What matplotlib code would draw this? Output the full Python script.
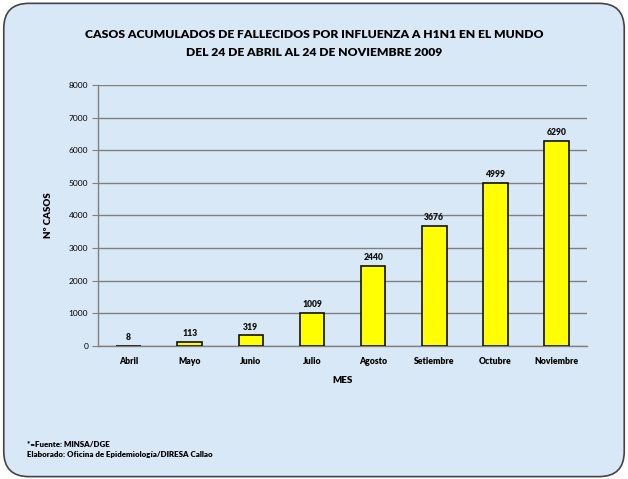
import matplotlib
matplotlib.use("Agg")
import matplotlib.pyplot as plt
from matplotlib.patches import FancyBboxPatch

months = ["Abril", "Mayo", "Junio", "Julio", "Agosto", "Setiembre", "Octubre", "Noviembre"]
cases = [8, 113, 319, 1009, 2440, 3676, 4999, 6290]
yticks = [0, 1000, 2000, 3000, 4000, 5000, 6000, 7000, 8000]

plt.rcParams['font.family'] = ['Lato', 'DejaVu Sans']

fig = plt.figure(figsize=(6.28, 4.79), dpi=100)
fig.patch.set_facecolor('white')
bg = FancyBboxPatch((0.006, 0.005), 0.988, 0.988, boxstyle="round,pad=0,rounding_size=0.04",
                    transform=fig.transFigure, facecolor='#d9e8f7', edgecolor='#444444',
                    linewidth=1.2, mutation_aspect=628/479, zorder=-5)
fig.patches.append(bg)

ax = fig.add_axes([0.156, 0.278, 0.779, 0.5445])
ax.set_zorder(5)
ax.set_facecolor('none')
x = range(len(months))
bars = ax.bar(x, cases, width=0.4, color='#ffff00', edgecolor='#111111', linewidth=1.2, zorder=3)
for xi, v in zip(x, cases):
    ax.text(xi, v + 120, str(v), ha='center', va='bottom', fontsize=6.2, fontweight='heavy', color='#111111')

ax.set_xlim(-0.5, len(months) - 0.5)
ax.set_ylim(0, 8000)
ax.set_yticks(yticks)
ax.set_yticklabels([str(t) for t in yticks], fontsize=6)
ax.set_xticks(list(x))
ax.set_xticklabels(months, fontsize=6.2, fontweight='heavy')
ax.tick_params(axis='x', length=0, pad=8)
ax.tick_params(axis='y', length=4, color='#808080', pad=3)
ax.yaxis.grid(True, color='#808080', linewidth=1.0, zorder=0)
ax.set_axisbelow(True)
for s in ['top', 'right']:
    ax.spines[s].set_visible(False)
for s in ['left', 'bottom']:
    ax.spines[s].set_color('#808080')
    ax.spines[s].set_linewidth(1.0)

ax.set_xlabel("MES", fontsize=7, fontweight='heavy', labelpad=7)
ax.set_ylabel("Nº CASOS", fontsize=7, fontweight='heavy', labelpad=11)

fig.text(0.5, 0.927, "CASOS ACUMULADOS DE FALLECIDOS POR INFLUENZA A H1N1 EN EL MUNDO",
         ha='center', va='center', fontsize=8.7, fontweight='heavy')
fig.text(0.5, 0.891, "DEL 24 DE ABRIL AL 24 DE NOVIEMBRE 2009",
         ha='center', va='center', fontsize=8.7, fontweight='heavy')

fig.text(0.043, 0.073, "*=Fuente: MINSA/DGE", ha='left', va='center', fontsize=5.7, fontweight='heavy')
fig.text(0.043, 0.052, "Elaborado: Oficina de Epidemiología/DIRESA Callao", ha='left', va='center', fontsize=5.7, fontweight='heavy')

fig.savefig("out.png", dpi=100)
